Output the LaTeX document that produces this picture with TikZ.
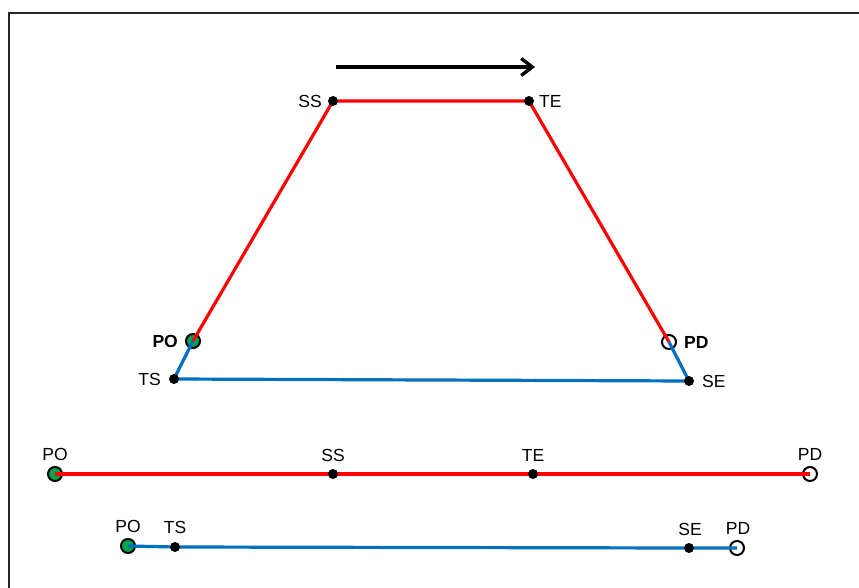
\documentclass[tikz,border=0pt]{standalone}
\usepackage{fontspec}
\setmainfont{Liberation Sans}
\usetikzlibrary{arrows.meta}
\definecolor{rl}{RGB}{255,0,0}
\definecolor{bl}{RGB}{0,112,192}
\definecolor{gn}{RGB}{0,166,80}
\begin{document}
\begin{tikzpicture}[x=1pt,y=-1pt,
  lbl/.style={font=\fontsize{17.5}{20}\selectfont, inner sep=0pt},
  blbl/.style={font=\fontsize{17.5}{20}\selectfont\bfseries, inner sep=0pt},
  bdot/.style={circle, fill=black, minimum size=10pt, inner sep=0pt},
  gdot/.style={circle, fill=gn, draw=black, line width=2pt, minimum size=14pt, inner sep=0pt},
  odot/.style={circle, fill=white, draw=black, line width=2pt, minimum size=14pt, inner sep=0pt},
  redl/.style={draw=rl, line width=3.2pt},
  bluel/.style={draw=bl, line width=3.2pt}]
\useasboundingbox (0,0) rectangle (859,588);
\fill[white] (0,0) rectangle (859,588);
% frame
\draw[line width=2.6pt, black!85] (9,588) -- (9,13) -- (860,13);
% arrow
\coordinate (a1) at (336,67);
\coordinate (a2) at (535,67);
\draw[line width=3.6pt, -{Straight Barb[length=11pt,width=17pt,line width=3.4pt]}] (a1) -- (a2);
% top trapezoid points
\coordinate (SS) at (333,101);
\coordinate (TE) at (529,101);
\coordinate (PO) at (193,341);
\coordinate (PD) at (669,342);
\coordinate (TS) at (174,379);
\coordinate (SE) at (689,381);
% row 2
\coordinate (rPO) at (55,474);
\coordinate (rSS) at (333,474);
\coordinate (rTE) at (533,474);
\coordinate (rPD) at (810,474);
% row 3
\coordinate (bPO) at (128,546);
\coordinate (bTS) at (175,547);
\coordinate (bSE) at (689,548);
\coordinate (bPD) at (737,548);
% circles
\node[gdot] (nPO) at (PO) {};
\node[odot] (nPD) at (PD) {};
\node[gdot] (nrPO) at (rPO) {};
\node[odot] (nrPD) at (rPD) {};
\node[gdot] (nbPO) at (bPO) {};
\node[odot] (nbPD) at (bPD) {};
% lines
\draw[redl] (PO) -- (SS) -- (TE) -- (PD);
\draw[bluel] (PO) -- (TS) -- (SE) -- (PD);
\draw[redl] (rPO) -- (rSS) -- (rTE) -- (rPD);
\draw[bluel] (bPO) -- (bTS) -- (bSE) -- (bPD);
% black dots
\foreach \p in {SS,TE,TS,SE,rSS,rTE,bTS,bSE} \node[bdot] (d\p) at (\p) {};
% labels
\node[lbl, anchor=east] (lSS) at (322,101) {SS};
\node[lbl, anchor=west] (lTE) at (539,101) {TE};
\node[blbl, anchor=east] (lPO) at (178,341) {PO};
\node[blbl, anchor=west] (lPD) at (684,342) {PD};
\node[lbl, anchor=east] (lTS) at (161,379) {TS};
\node[lbl, anchor=west] (lSE) at (702,381) {SE};
\node[lbl, anchor=base] (lrPO) at (55,460) {PO};
\node[lbl, anchor=base] (lrSS) at (333,461) {SS};
\node[lbl, anchor=base] (lrTE) at (533,461) {TE};
\node[lbl, anchor=base] (lrPD) at (810,460) {PD};
\node[lbl, anchor=base] (lbPO) at (128,532) {PO};
\node[lbl, anchor=base] (lbTS) at (175,533) {TS};
\node[lbl, anchor=base] (lbSE) at (690,535) {SE};
\node[lbl, anchor=base] (lbPD) at (738,534) {PD};
\end{tikzpicture}
\end{document}
